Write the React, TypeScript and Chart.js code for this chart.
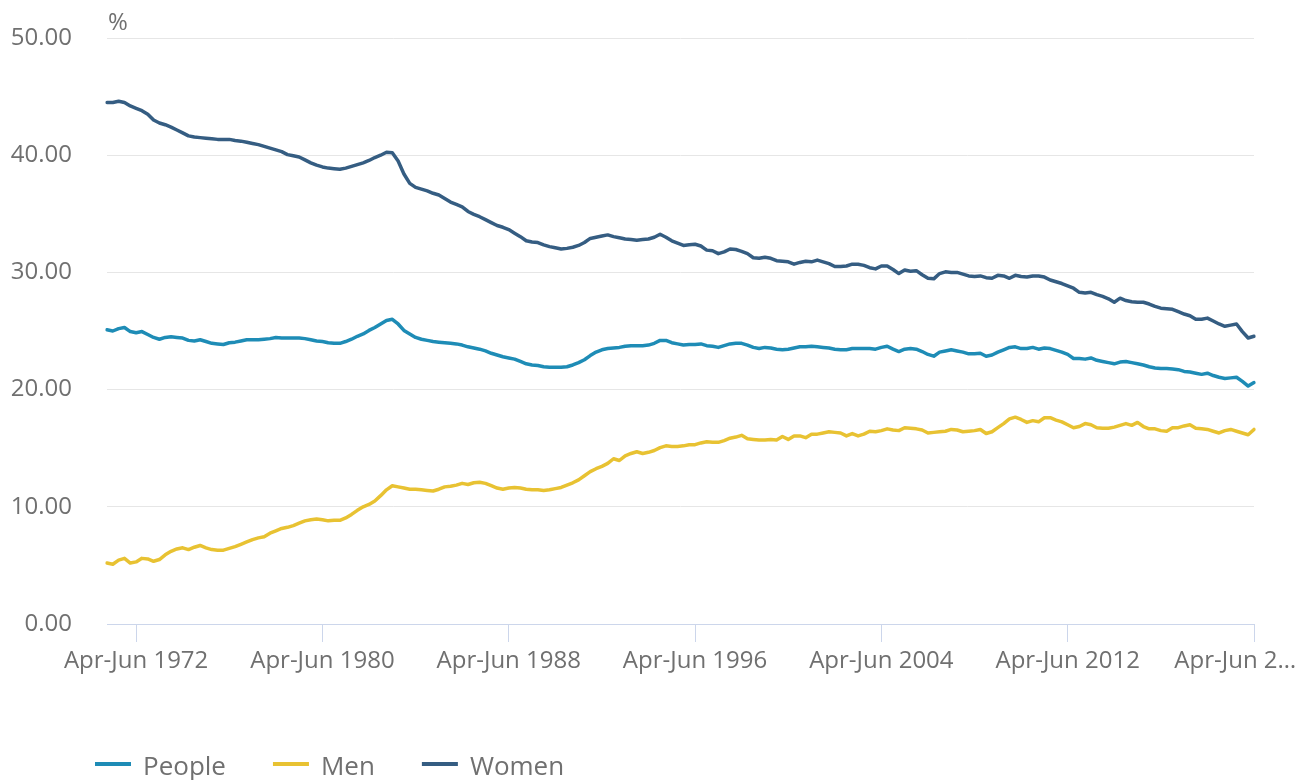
import React, { useEffect, useRef } from 'react';
import { Chart, registerables } from 'chart.js';

Chart.register(...registerables);

// Rolling quarterly periods, Jan-Mar 1971 to Apr-Jun 2020
const QUARTER_NAMES = ['Jan-Mar', 'Apr-Jun', 'Jul-Sep', 'Oct-Dec'];
const FIRST_YEAR = 1971;

const TICK_LABELS = [
  'Apr-Jun 1972', 'Apr-Jun 1980', 'Apr-Jun 1988', 'Apr-Jun 1996',
  'Apr-Jun 2004', 'Apr-Jun 2012', 'Apr-Jun 2020',
];

const SERIES_NAMES = ['People', 'Men', 'Women'];

const PEOPLE = [
  25.1, 25.0, 25.2, 25.3, 24.95, 24.85, 24.95, 24.7, 24.45, 24.3,
  24.45, 24.5, 24.45, 24.4, 24.2, 24.15, 24.25, 24.1, 23.95, 23.9,
  23.85, 24.0, 24.05, 24.15, 24.25, 24.25, 24.25, 24.3, 24.35, 24.45,
  24.4, 24.4, 24.4, 24.4, 24.35, 24.25, 24.15, 24.1, 24.0, 23.95,
  23.95, 24.1, 24.3, 24.55, 24.75, 25.05, 25.3, 25.6, 25.9, 26.0,
  25.6, 25.05, 24.75, 24.45, 24.3, 24.2, 24.1, 24.05, 24.0, 23.95,
  23.9, 23.8, 23.65, 23.55, 23.45, 23.3, 23.1, 22.95, 22.8, 22.7,
  22.6, 22.4, 22.2, 22.1, 22.05, 21.95, 21.9, 21.9, 21.9, 21.95,
  22.1, 22.3, 22.55, 22.9, 23.2, 23.4, 23.5, 23.55, 23.6, 23.7,
  23.75, 23.75, 23.75, 23.8, 23.95, 24.2, 24.2, 24.0, 23.9, 23.8,
  23.85, 23.85, 23.9, 23.75, 23.7, 23.6, 23.75, 23.9, 23.95, 23.95,
  23.8, 23.6, 23.5, 23.6, 23.55, 23.45, 23.4, 23.45, 23.55, 23.65,
  23.65, 23.7, 23.65, 23.6, 23.55, 23.45, 23.4, 23.4, 23.5, 23.5,
  23.5, 23.5, 23.45, 23.6, 23.7, 23.45, 23.25, 23.45, 23.5, 23.45,
  23.25, 23.0, 22.85, 23.2, 23.3, 23.4, 23.3, 23.2, 23.05, 23.05,
  23.1, 22.85, 22.95, 23.2, 23.4, 23.6, 23.65, 23.5, 23.5, 23.6,
  23.45, 23.55, 23.5, 23.35, 23.2, 23.0, 22.65, 22.65, 22.6, 22.7,
  22.5, 22.4, 22.3, 22.2, 22.35, 22.4, 22.3, 22.2, 22.1, 21.95,
  21.85, 21.8, 21.8, 21.75, 21.7, 21.55, 21.5, 21.4, 21.3, 21.4,
  21.2, 21.05, 20.95, 21.0, 21.05, 20.7, 20.3, 20.6,
];

const MEN = [
  5.2, 5.1, 5.45, 5.6, 5.2, 5.3, 5.6, 5.55, 5.35, 5.5,
  5.9, 6.2, 6.4, 6.5, 6.35, 6.55, 6.7, 6.5, 6.35, 6.3,
  6.3, 6.45, 6.6, 6.8, 7.0, 7.2, 7.35, 7.45, 7.75, 7.95,
  8.15, 8.25, 8.4, 8.6, 8.8, 8.9, 8.95, 8.9, 8.8, 8.85,
  8.85, 9.05, 9.35, 9.7, 10.0, 10.2, 10.5, 10.95, 11.45, 11.8,
  11.7, 11.6, 11.5, 11.5, 11.45, 11.4, 11.35, 11.5, 11.7, 11.75,
  11.85, 12.0, 11.9, 12.05, 12.1, 12.0, 11.8, 11.6, 11.5, 11.6,
  11.65, 11.6, 11.5, 11.45, 11.45, 11.4, 11.45, 11.55, 11.65, 11.85,
  12.05, 12.3, 12.65, 13.0, 13.25, 13.45, 13.7, 14.1, 13.95, 14.35,
  14.55, 14.7, 14.55, 14.65, 14.8, 15.05, 15.2, 15.15, 15.15, 15.2,
  15.3, 15.3, 15.45, 15.55, 15.5, 15.5, 15.65, 15.85, 15.95, 16.1,
  15.8, 15.75, 15.7, 15.7, 15.75, 15.7, 16.0, 15.75, 16.05, 16.05,
  15.9, 16.2, 16.2, 16.3, 16.4, 16.35, 16.3, 16.05, 16.25, 16.05,
  16.2, 16.45, 16.4, 16.5, 16.65, 16.55, 16.5, 16.75, 16.7, 16.65,
  16.55, 16.3, 16.35, 16.4, 16.45, 16.6, 16.55, 16.4, 16.45, 16.5,
  16.6, 16.25, 16.4, 16.75, 17.1, 17.5, 17.65, 17.45, 17.2, 17.35,
  17.25, 17.6, 17.6, 17.4, 17.25, 17.0, 16.75, 16.85, 17.1, 17.0,
  16.75, 16.7, 16.7, 16.8, 16.95, 17.1, 16.95, 17.2, 16.85, 16.65,
  16.65, 16.5, 16.45, 16.75, 16.75, 16.9, 17.0, 16.7, 16.65, 16.6,
  16.45, 16.3, 16.5, 16.6, 16.45, 16.3, 16.15, 16.6,
];

const WOMEN = [
  44.5, 44.5, 44.6, 44.5, 44.2, 44.0, 43.8, 43.5, 43.0, 42.75,
  42.6, 42.4, 42.15, 41.9, 41.65, 41.55, 41.5, 41.45, 41.4, 41.35,
  41.35, 41.35, 41.25, 41.2, 41.1, 41.0, 40.9, 40.75, 40.6, 40.45,
  40.3, 40.05, 39.95, 39.85, 39.6, 39.35, 39.15, 39.0, 38.9, 38.85,
  38.8, 38.9, 39.05, 39.2, 39.35, 39.55, 39.8, 40.0, 40.25, 40.2,
  39.5, 38.4, 37.6, 37.25, 37.1, 36.95, 36.75, 36.6, 36.3, 36.0,
  35.8, 35.6, 35.2, 34.95, 34.75, 34.5, 34.25, 34.0, 33.85, 33.65,
  33.35, 33.05, 32.7, 32.6, 32.55, 32.35, 32.2, 32.1, 32.0, 32.05,
  32.15, 32.3, 32.55, 32.9, 33.0, 33.1, 33.2, 33.05, 32.95, 32.85,
  32.8, 32.75, 32.8, 32.85, 33.0, 33.25, 33.0, 32.7, 32.5, 32.3,
  32.35, 32.4, 32.25, 31.9, 31.85, 31.6, 31.75, 32.0, 31.95, 31.8,
  31.6, 31.25, 31.2, 31.3, 31.2, 31.0, 30.95, 30.9, 30.7, 30.85,
  30.95, 30.9, 31.05, 30.9, 30.75, 30.5, 30.5, 30.55, 30.7, 30.7,
  30.6, 30.4, 30.3, 30.55, 30.55, 30.25, 29.9, 30.2, 30.1, 30.15,
  29.8, 29.5, 29.45, 29.9, 30.05, 30.0, 30.0, 29.85, 29.7, 29.65,
  29.7, 29.55, 29.5, 29.75, 29.7, 29.5, 29.75, 29.65, 29.6, 29.7,
  29.7, 29.6, 29.35, 29.2, 29.05, 28.85, 28.65, 28.3, 28.25, 28.3,
  28.1, 27.95, 27.75, 27.45, 27.8, 27.6, 27.5, 27.45, 27.45, 27.3,
  27.1, 26.95, 26.9, 26.85, 26.65, 26.45, 26.3, 26.0, 26.0, 26.1,
  25.85, 25.6, 25.4, 25.5, 25.6, 24.95, 24.4, 24.55,
];

const Y_MIN = 0;
const Y_MAX = 50;
const Y_STEP = 10;
const UNIT_LABEL = '%';

const COLORS = ['#1e8cb6', '#e8c232', '#355d82'];
const TEXT_COLOR = '#707070';
const GRID_COLOR = '#e6e6e6';
const AXIS_COLOR = '#ccd6eb';
const FONT = "'Open Sans', sans-serif";

const LABELS = PEOPLE.map(
  (_, i) => `${QUARTER_NAMES[i % 4]} ${FIRST_YEAR + Math.floor(i / 4)}`
);

const isTickIndex = (i: number) => TICK_LABELS.includes(LABELS[i]);

const overlayPlugin = {
  id: 'overlay',
  afterDraw(chart: any) {
    const ctx = chart.ctx;
    const { left, top } = chart.chartArea;
    ctx.save();
    ctx.textAlign = 'left';
    ctx.textBaseline = 'alphabetic';
    ctx.fillStyle = TEXT_COLOR;
    ctx.font = `24px ${FONT}`;
    ctx.fillText(UNIT_LABEL, left + 1, top - 8);

    // legend
    ctx.font = `26px ${FONT}`;
    let x = 95;
    const lineY = 764;
    const textY = 775;
    chart.data.datasets.forEach((ds: any) => {
      ctx.fillStyle = ds.borderColor;
      ctx.fillRect(x, lineY - 2, 36, 4);
      ctx.fillStyle = TEXT_COLOR;
      ctx.fillText(ds.label, x + 48, textY);
      x += 48 + ctx.measureText(ds.label).width + 47;
    });
    ctx.restore();
  },
};

export default function App() {
  const ref = useRef<HTMLCanvasElement>(null);

  useEffect(() => {
    if (!ref.current) return;
    Chart.defaults.font.family = FONT;
    const seriesData = [PEOPLE, MEN, WOMEN];
    const chart = new Chart(ref.current, {
      type: 'line',
      data: {
        labels: LABELS,
        datasets: SERIES_NAMES.map((name, i) => ({
          label: name,
          data: seriesData[i],
          borderColor: COLORS[i],
          backgroundColor: COLORS[i],
          borderWidth: 3.5,
          pointRadius: 0,
          tension: 0,
          borderJoinStyle: 'round' as const,
          borderCapStyle: 'round' as const,
          fill: false,
        })),
      },
      options: {
        responsive: false,
        animation: false,
        layout: { padding: { left: 10, right: 0, top: 38, bottom: 104 } },
        plugins: {
          legend: { display: false },
          tooltip: { enabled: false },
        },
        scales: {
          x: {
            type: 'category',
            offset: false,
            grid: {
              display: true,
              drawOnChartArea: false,
              drawTicks: true,
              tickLength: 18,
              lineWidth: 1,
              color: (c: any) => (isTickIndex(c.index) ? AXIS_COLOR : 'rgba(0,0,0,0)'),
              tickColor: (c: any) => (isTickIndex(c.index) ? AXIS_COLOR : 'rgba(0,0,0,0)'),
            },
            border: { display: true, color: AXIS_COLOR, width: 1 },
            ticks: {
              autoSkip: false,
              maxRotation: 0,
              minRotation: 0,
              padding: 5,
              color: TEXT_COLOR,
              font: { size: 24, family: FONT },
              callback: (_v: any, index: number) => {
                const lab = LABELS[index];
                if (!isTickIndex(index)) return '';
                // last label is truncated (and shifted left) to fit inside the chart, as in the original
                return index === LABELS.length - 1
                  ? lab.slice(0, 9) + '…' + '\u00a0'.repeat(6)
                  : lab;
              },
            },
            afterFit: (scale: any) => {
              scale.paddingLeft = 0;
              scale.paddingRight = 55;
              scale.height = 52;
            },
          },
          y: {
            min: Y_MIN,
            max: Y_MAX,
            ticks: {
              stepSize: Y_STEP,
              padding: 35,
              color: TEXT_COLOR,
              font: { size: 24, family: FONT },
              callback: (v: any) => Number(v).toFixed(2),
            },
            grid: { color: GRID_COLOR, drawTicks: false, lineWidth: 1 },
            border: { display: false },
            afterFit: (scale: any) => {
              scale.width = 97;
              scale.paddingTop = 0;
              scale.paddingBottom = 0;
            },
          },
        },
      },
      plugins: [overlayPlugin],
    });
    return () => chart.destroy();
  }, []);

  return (
    <div
      style={{
        position: 'fixed',
        left: 0,
        top: 0,
        width: 1309,
        height: 780,
        background: '#ffffff',
      }}
    >
      <canvas ref={ref} width={1309} height={780} style={{ display: 'block' }} />
    </div>
  );
}
